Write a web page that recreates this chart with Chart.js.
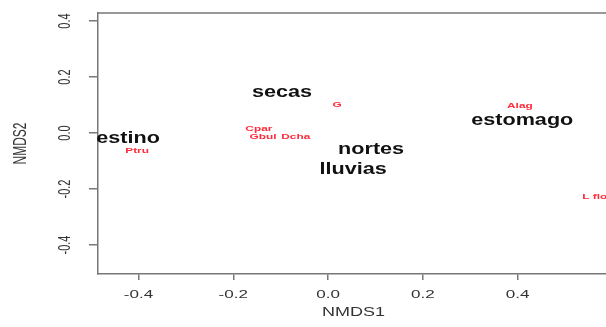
<!DOCTYPE html>
<html>
<head>
<meta charset="utf-8">
<script src="https://cdn.jsdelivr.net/npm/chart.js@4/dist/chart.umd.min.js"></script>
<style>
  html, body { margin: 0; padding: 0; background: #fff; overflow: hidden; }
  #wrap { width: 612px; height: 327px; }
</style>
</head>
<body>
<div id="wrap"><canvas id="c"></canvas></div>
<script>
// NMDS ordination: sampling seasons / stomach (sites) and prey taxa (species)
const siteNames = ["secas", "estino", "nortes", "lluvias", "estomago"];
const siteX = [-0.097, -0.422, 0.091, 0.053, 0.410];
const siteY = [0.143, -0.021, -0.061, -0.129, 0.046];

const speciesNames = ["G", "Cpar", "Gbul", "Dcha", "Ptru", "Alag", "L flo"];
const speciesX = [0.019, -0.146, -0.137, -0.068, -0.403, 0.405, 0.563];
const speciesY = [0.100, 0.014, -0.014, -0.014, -0.064, 0.096, -0.229];

const xTicks = [-0.4, -0.2, 0.0, 0.2, 0.4];
const yTicks = [-0.4, -0.2, 0.0, 0.2, 0.4];
const xTickLabels = ["-0.4", "-0.2", "0.0", "0.2", "0.4"];
const yTickLabels = ["-0.4", "-0.2", "0.0", "0.2", "0.4"];

const FONT = "'Liberation Sans', Arial, sans-serif";
const AXIS = '#777';

// draw horizontally widened text centred at (x, y), optionally rotated
function wideText(ctx, str, x, y, font, sx, color, rot) {
  ctx.save();
  ctx.translate(x, y);
  ctx.scale(sx, 1);
  if (rot) ctx.rotate(rot);
  ctx.font = font + ' ' + FONT;
  ctx.fillStyle = color;
  ctx.textAlign = 'center';
  ctx.textBaseline = 'middle';
  ctx.fillText(str, 0, 0);
  ctx.restore();
}

const ordLabels = {
  id: 'ordLabels',
  afterDraw(chart) {
    const ctx = chart.ctx;
    const a = chart.chartArea;
    const xs = chart.scales.x, ys = chart.scales.y;

    // box top and right sides
    ctx.save();
    ctx.strokeStyle = AXIS;
    ctx.lineWidth = 1.5;
    ctx.beginPath();
    ctx.moveTo(a.left, a.top);
    ctx.lineTo(a.right, a.top);
    ctx.lineTo(a.right, a.bottom);
    ctx.stroke();
    ctx.restore();

    // tick labels
    xTicks.forEach((v, i) => {
      wideText(ctx, xTickLabels[i], xs.getPixelForValue(v), a.bottom + 21, '11px', 1.55, '#333');
    });
    yTicks.forEach((v, i) => {
      wideText(ctx, yTickLabels[i], a.left - 33, ys.getPixelForValue(v), '11px', 1.55, '#333', -Math.PI / 2);
    });

    // axis titles
    wideText(ctx, 'NMDS1', (a.left + a.right) / 2, a.bottom + 39, '12px', 1.5, '#333');
    wideText(ctx, 'NMDS2', a.left - 77, (a.top + a.bottom) / 2, '12px', 1.5, '#333', -Math.PI / 2);

    // site and species labels at their ordination scores
    const siteMeta = chart.getDatasetMeta(0);
    siteMeta.data.forEach((p, i) => {
      wideText(ctx, siteNames[i], p.x, p.y, 'bold 16px', 1.35, '#111');
    });
    const spMeta = chart.getDatasetMeta(1);
    spMeta.data.forEach((p, i) => {
      wideText(ctx, speciesNames[i], p.x, p.y, 'bold 8px', 1.48, '#ff2a3a');
    });
  }
};

new Chart(document.getElementById('c'), {
  type: 'scatter',
  data: {
    datasets: [
      { label: 'sites', data: siteX.map((x, i) => ({ x: x, y: siteY[i] })), pointRadius: 0 },
      { label: 'species', data: speciesX.map((x, i) => ({ x: x, y: speciesY[i] })), pointRadius: 0 }
    ]
  },
  options: {
    responsive: true,
    maintainAspectRatio: false,
    animation: false,
    events: [],
    layout: { padding: { top: 13, right: 3, left: 0, bottom: 0 } },
    plugins: { legend: { display: false }, tooltip: { enabled: false } },
    scales: {
      x: {
        type: 'linear',
        min: -0.4855,
        max: 0.5931,
        afterBuildTicks: s => { s.ticks = xTicks.map(v => ({ value: v })); },
        afterFit: s => { s.height = 53; },
        ticks: { display: false },
        grid: { drawOnChartArea: false, drawTicks: true, tickLength: 6, color: AXIS, lineWidth: 1.5 },
        border: { display: true, color: AXIS, width: 1.5 }
      },
      y: {
        type: 'linear',
        min: -0.5036,
        max: 0.4286,
        afterBuildTicks: s => { s.ticks = yTicks.map(v => ({ value: v })); },
        afterFit: s => { s.width = 98; },
        ticks: { display: false },
        grid: { drawOnChartArea: false, drawTicks: true, tickLength: 9, color: AXIS, lineWidth: 1.5 },
        border: { display: true, color: AXIS, width: 1.5 }
      }
    }
  },
  plugins: [ordLabels]
});
</script>
</body>
</html>
